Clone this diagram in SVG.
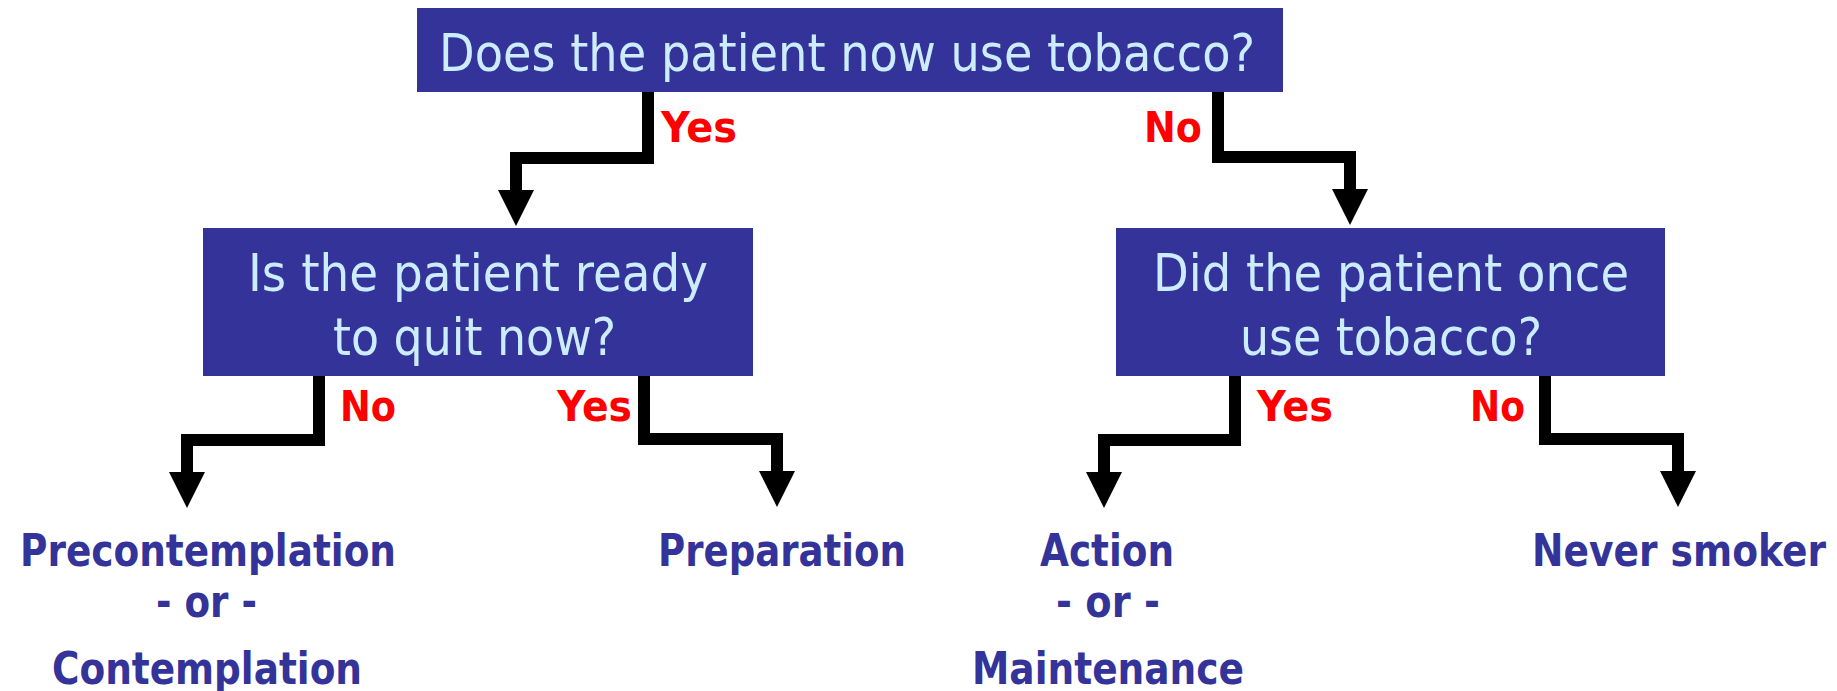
<svg xmlns="http://www.w3.org/2000/svg" width="1837" height="691" viewBox="0 0 1837 691">
  <style>
    .box { fill: #333399; }
    .q { font-family: "DejaVu Sans", "Liberation Sans", sans-serif; font-size: 52px; fill: #CCECFF; }
    .lbl { font-family: "DejaVu Sans", "Liberation Sans", sans-serif; font-size: 43px; font-weight: bold; fill: #FF0000; }
    .out { font-family: "DejaVu Sans", "Liberation Sans", sans-serif; font-size: 45px; font-weight: bold; fill: #333399; }
    .wire { fill: none; stroke: #000000; stroke-width: 12; stroke-linejoin: miter; }
  </style>
  <defs>
    <marker id="head" markerUnits="userSpaceOnUse" viewBox="0 -18 36 36" refX="0" refY="0" markerWidth="36" markerHeight="36" orient="auto">
      <path d="M0,-18 L36,0 L0,18 Z" fill="#000000"/>
    </marker>
  </defs>
  <rect width="1837" height="691" fill="#FFFFFF"/>

  <!-- Connectors -->
  <g id="connectors">
    <path class="wire" d="M648,92 V158 H516 V190" marker-end="url(#head)"/>
    <path class="wire" d="M1218,92 V157 H1350 V189" marker-end="url(#head)"/>
    <path class="wire" d="M319,376 V440 H187 V472" marker-end="url(#head)"/>
    <path class="wire" d="M644,376 V439 H777 V471" marker-end="url(#head)"/>
    <path class="wire" d="M1235,376 V440 H1104 V472" marker-end="url(#head)"/>
    <path class="wire" d="M1545,376 V439 H1678 V471" marker-end="url(#head)"/>
    <text class="lbl" x="661" y="142" textLength="76" lengthAdjust="spacingAndGlyphs">Yes</text>
    <text class="lbl" x="1144" y="142" textLength="58" lengthAdjust="spacingAndGlyphs">No</text>
    <text class="lbl" x="340" y="421" textLength="56" lengthAdjust="spacingAndGlyphs">No</text>
    <text class="lbl" x="557" y="421" textLength="75" lengthAdjust="spacingAndGlyphs">Yes</text>
    <text class="lbl" x="1257" y="421" textLength="76" lengthAdjust="spacingAndGlyphs">Yes</text>
    <text class="lbl" x="1470" y="421" textLength="55" lengthAdjust="spacingAndGlyphs">No</text>
  </g>

  <!-- Question boxes -->
  <g id="q-uses-now">
    <rect class="box" x="417" y="8" width="866" height="84"/>
    <text class="q" x="439" y="71" textLength="816" lengthAdjust="spacingAndGlyphs">Does the patient now use tobacco?</text>
  </g>
  <g id="q-ready">
    <rect class="box" x="203" y="228" width="550" height="148"/>
    <text class="q" x="248" y="291" textLength="460" lengthAdjust="spacingAndGlyphs">Is the patient ready</text>
    <text class="q" x="333" y="355" textLength="283" lengthAdjust="spacingAndGlyphs">to quit now?</text>
  </g>
  <g id="q-once-used">
    <rect class="box" x="1116" y="228" width="549" height="148"/>
    <text class="q" x="1153" y="291" textLength="476" lengthAdjust="spacingAndGlyphs">Did the patient once</text>
    <text class="q" x="1240" y="355" textLength="302" lengthAdjust="spacingAndGlyphs">use tobacco?</text>
  </g>

  <!-- Outcomes -->
  <g id="out-precontemplation">
    <text class="out" x="20" y="566" textLength="376" lengthAdjust="spacingAndGlyphs">Precontemplation</text>
    <text class="out" x="156" y="617" textLength="101" lengthAdjust="spacingAndGlyphs">- or -</text>
    <text class="out" x="52" y="684" textLength="310" lengthAdjust="spacingAndGlyphs">Contemplation</text>
  </g>
  <g id="out-preparation">
    <text class="out" x="658" y="566" textLength="248" lengthAdjust="spacingAndGlyphs">Preparation</text>
  </g>
  <g id="out-action">
    <text class="out" x="1040" y="566" textLength="134" lengthAdjust="spacingAndGlyphs">Action</text>
    <text class="out" x="1056" y="617" textLength="104" lengthAdjust="spacingAndGlyphs">- or -</text>
    <text class="out" x="972" y="684" textLength="272" lengthAdjust="spacingAndGlyphs">Maintenance</text>
  </g>
  <g id="out-never">
    <text class="out" x="1532" y="566" textLength="294" lengthAdjust="spacingAndGlyphs">Never smoker</text>
  </g>
</svg>
